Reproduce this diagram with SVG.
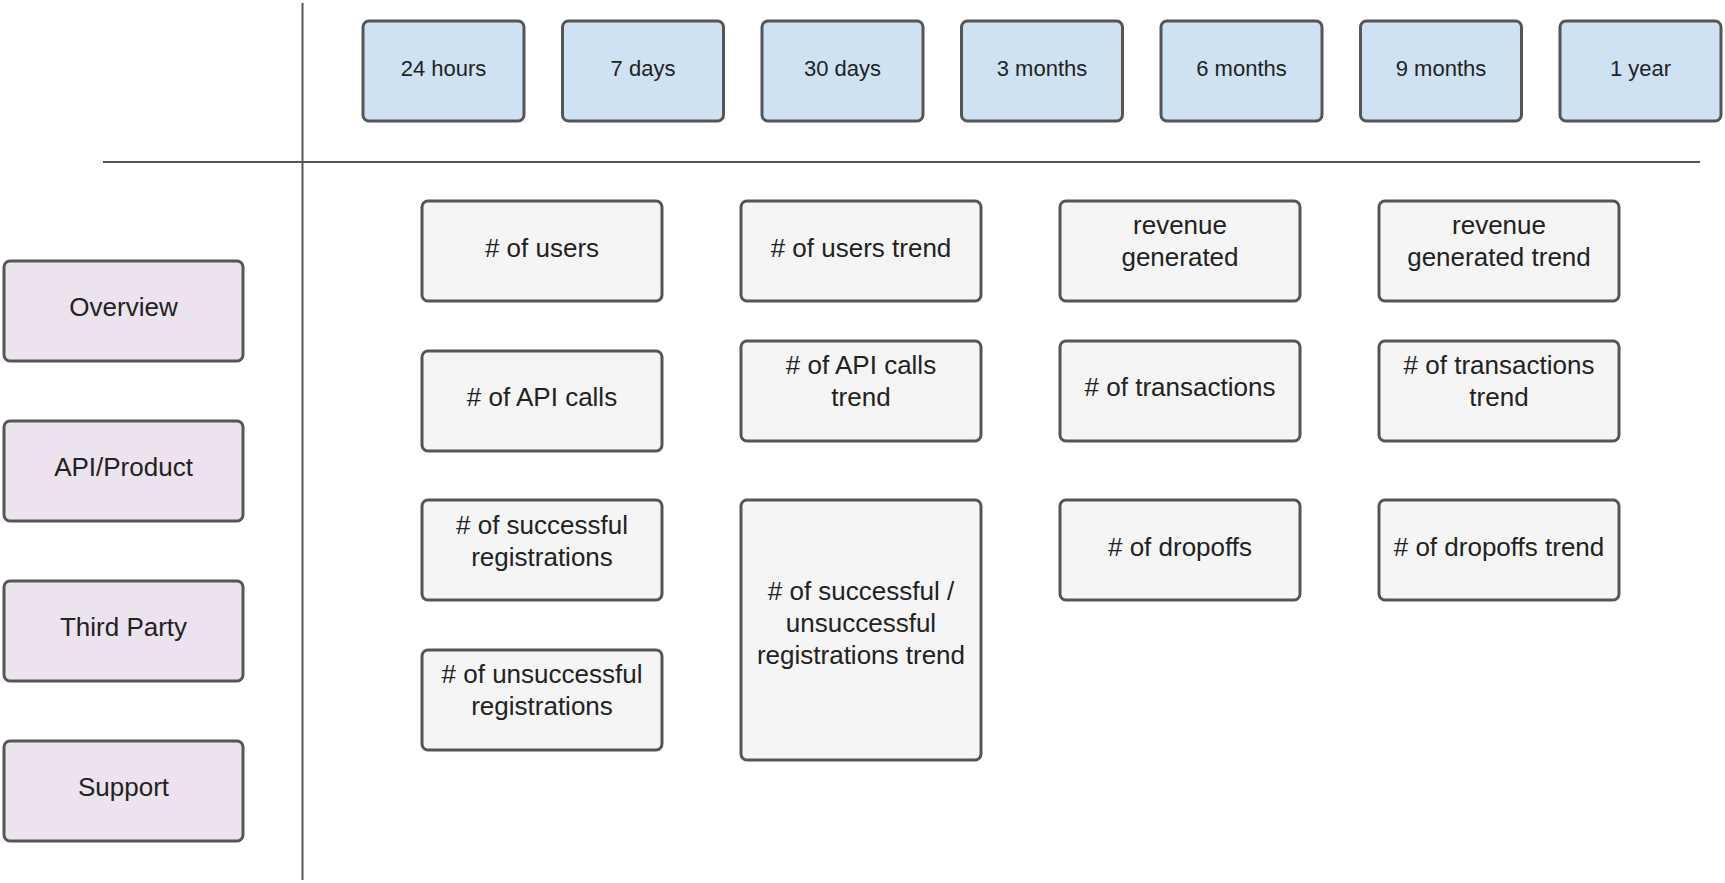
<svg xmlns="http://www.w3.org/2000/svg" width="1725" height="883" viewBox="0 0 1725 883">
<style>
.box{stroke:#555;stroke-width:3}
.t{fill:#cfe2f3}
.p{fill:#ede3ee}
.g{fill:#f5f5f5}
text{font-family:"Liberation Sans",Arial,sans-serif;fill:#222;text-anchor:middle}
.s{font-size:22px}
.m{font-size:26px}
.ln{stroke:#555;stroke-width:2;fill:none}
</style>
<rect width="1725" height="883" fill="#fff"/>
<g id="connectors">
<line class="ln" x1="302.5" y1="3" x2="302.5" y2="880"/>
<line class="ln" x1="103" y1="162" x2="1700" y2="162"/>
</g>
<g id="h24"><rect class="box t" x="363" y="21" width="161" height="100" rx="6"/><text class="s" x="443.5" y="76">24 hours</text></g>
<g id="d7"><rect class="box t" x="562.5" y="21" width="161" height="100" rx="6"/><text class="s" x="643" y="76">7 days</text></g>
<g id="d30"><rect class="box t" x="762" y="21" width="161" height="100" rx="6"/><text class="s" x="842.5" y="76">30 days</text></g>
<g id="m3"><rect class="box t" x="961.5" y="21" width="161" height="100" rx="6"/><text class="s" x="1042" y="76">3 months</text></g>
<g id="m6"><rect class="box t" x="1161" y="21" width="161" height="100" rx="6"/><text class="s" x="1241.5" y="76">6 months</text></g>
<g id="m9"><rect class="box t" x="1360.5" y="21" width="161" height="100" rx="6"/><text class="s" x="1441" y="76">9 months</text></g>
<g id="y1"><rect class="box t" x="1560" y="21" width="161" height="100" rx="6"/><text class="s" x="1640.5" y="76">1 year</text></g>

<g id="overview"><rect class="box p" x="4" y="261" width="239" height="100" rx="6"/><text class="m" x="123.5" y="316">Overview</text></g>
<g id="api"><rect class="box p" x="4" y="421" width="239" height="100" rx="6"/><text class="m" x="123.5" y="476">API/Product</text></g>
<g id="third"><rect class="box p" x="4" y="581" width="239" height="100" rx="6"/><text class="m" x="123.5" y="636">Third Party</text></g>
<g id="support"><rect class="box p" x="4" y="741" width="239" height="100" rx="6"/><text class="m" x="123.5" y="796">Support</text></g>

<g id="users"><rect class="box g" x="422" y="201" width="240" height="100" rx="6"/><text class="m" x="542" y="257"># of users</text></g>
<g id="apicalls"><rect class="box g" x="422" y="351" width="240" height="100" rx="6"/><text class="m" x="542" y="406"># of API calls</text></g>
<g id="succ"><rect class="box g" x="422" y="500" width="240" height="100" rx="6"/><text class="m" x="542" y="534"># of successful</text><text class="m" x="542" y="566">registrations</text></g>
<g id="unsucc"><rect class="box g" x="422" y="650" width="240" height="100" rx="6"/><text class="m" x="542" y="683"># of unsuccessful</text><text class="m" x="542" y="715">registrations</text></g>

<g id="userstrend"><rect class="box g" x="741" y="201" width="240" height="100" rx="6"/><text class="m" x="861" y="257"># of users trend</text></g>
<g id="apitrend"><rect class="box g" x="741" y="341" width="240" height="100" rx="6"/><text class="m" x="861" y="374"># of API calls</text><text class="m" x="861" y="406">trend</text></g>
<g id="regtrend"><rect class="box g" x="741" y="500" width="240" height="260" rx="6"/><text class="m" x="861" y="600"># of successful /</text><text class="m" x="861" y="632">unsuccessful</text><text class="m" x="861" y="664">registrations trend</text></g>

<g id="revenue"><rect class="box g" x="1060" y="201" width="240" height="100" rx="6"/><text class="m" x="1180" y="234">revenue</text><text class="m" x="1180" y="266">generated</text></g>
<g id="transactions"><rect class="box g" x="1060" y="341" width="240" height="100" rx="6"/><text class="m" x="1180" y="396"># of transactions</text></g>
<g id="dropoffs"><rect class="box g" x="1060" y="500" width="240" height="100" rx="6"/><text class="m" x="1180" y="556"># of dropoffs</text></g>

<g id="revtrend"><rect class="box g" x="1379" y="201" width="240" height="100" rx="6"/><text class="m" x="1499" y="234">revenue</text><text class="m" x="1499" y="266">generated trend</text></g>
<g id="transtrend"><rect class="box g" x="1379" y="341" width="240" height="100" rx="6"/><text class="m" x="1499" y="374"># of transactions</text><text class="m" x="1499" y="406">trend</text></g>
<g id="droptrend"><rect class="box g" x="1379" y="500" width="240" height="100" rx="6"/><text class="m" x="1499" y="556"># of dropoffs trend</text></g>
</svg>
